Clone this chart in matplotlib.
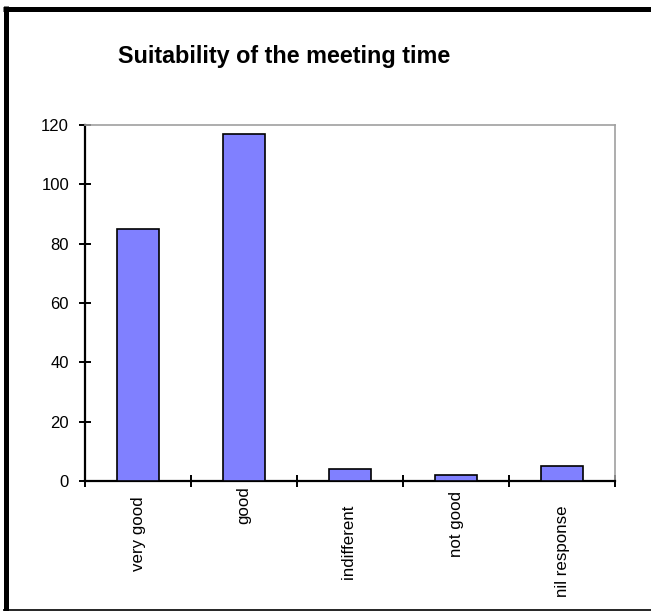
import numpy as np
import matplotlib.pyplot as plt
from matplotlib.lines import Line2D

plt.rcParams['font.family'] = ['Liberation Sans', 'DejaVu Sans']

# survey answers (labels keep their trailing spaces from the sheet)
categories = ['very good  ', 'good', 'indifferent    ', 'not good ', 'nil response    ']
responses = [85, 117, 4, 2, 5]
y_ticks = [0, 20, 40, 60, 80, 100, 120]

W, H = 651, 611
fig = plt.figure(figsize=(W / 100, H / 100), dpi=100)

# frame around the sheet: heavy left/top, thin bottom
fig.add_artist(Line2D([5.5 / W, 5.5 / W], [0, 1 - 6 / H], transform=fig.transFigure,
                      color='black', lw=3.6, solid_capstyle='butt'))
fig.add_artist(Line2D([3 / W, 1], [1 - 8.5 / H, 1 - 8.5 / H], transform=fig.transFigure,
                      color='black', lw=3.6, solid_capstyle='butt'))
fig.add_artist(Line2D([3 / W, 1], [1.5 / H, 1.5 / H], transform=fig.transFigure,
                      color='black', lw=1.2, solid_capstyle='butt'))

ax = fig.add_axes([85 / W, 1 - 481 / H, (615 - 85) / W, (481 - 125) / H])

x = np.arange(len(categories))
ax.bar(x, responses, width=0.4, color='#8080FF', edgecolor='black', linewidth=1.2, zorder=3)

ax.set_xlim(-0.5, len(categories) - 0.5)
ax.set_ylim(0, 120)
ax.set_yticks(y_ticks)

# labels centred on bars, tick marks between categories
ax.set_xticks(x)
ax.set_xticklabels(categories, rotation=90, fontsize=12.2, va='top')
ax.set_xticks(np.arange(0, len(categories) + 1) - 0.5, minor=True)
ax.tick_params(axis='x', which='major', length=0, pad=4)
ax.tick_params(axis='x', which='minor', direction='inout', length=9, width=1.4)
ax.tick_params(axis='y', direction='inout', length=9, width=1.4, labelsize=12, pad=7)

for side in ['left', 'bottom']:
    ax.spines[side].set_linewidth(1.6)
    ax.spines[side].set_color('black')
for side in ['top', 'right']:
    ax.spines[side].set_linewidth(1.2)
    ax.spines[side].set_color('#a0a0a0')

fig.text(118 / W, 1 - 63 / H, 'Suitability of the meeting time', fontsize=16.8,
         fontweight='bold', ha='left', va='baseline')

fig.savefig('out.png', dpi=100)
